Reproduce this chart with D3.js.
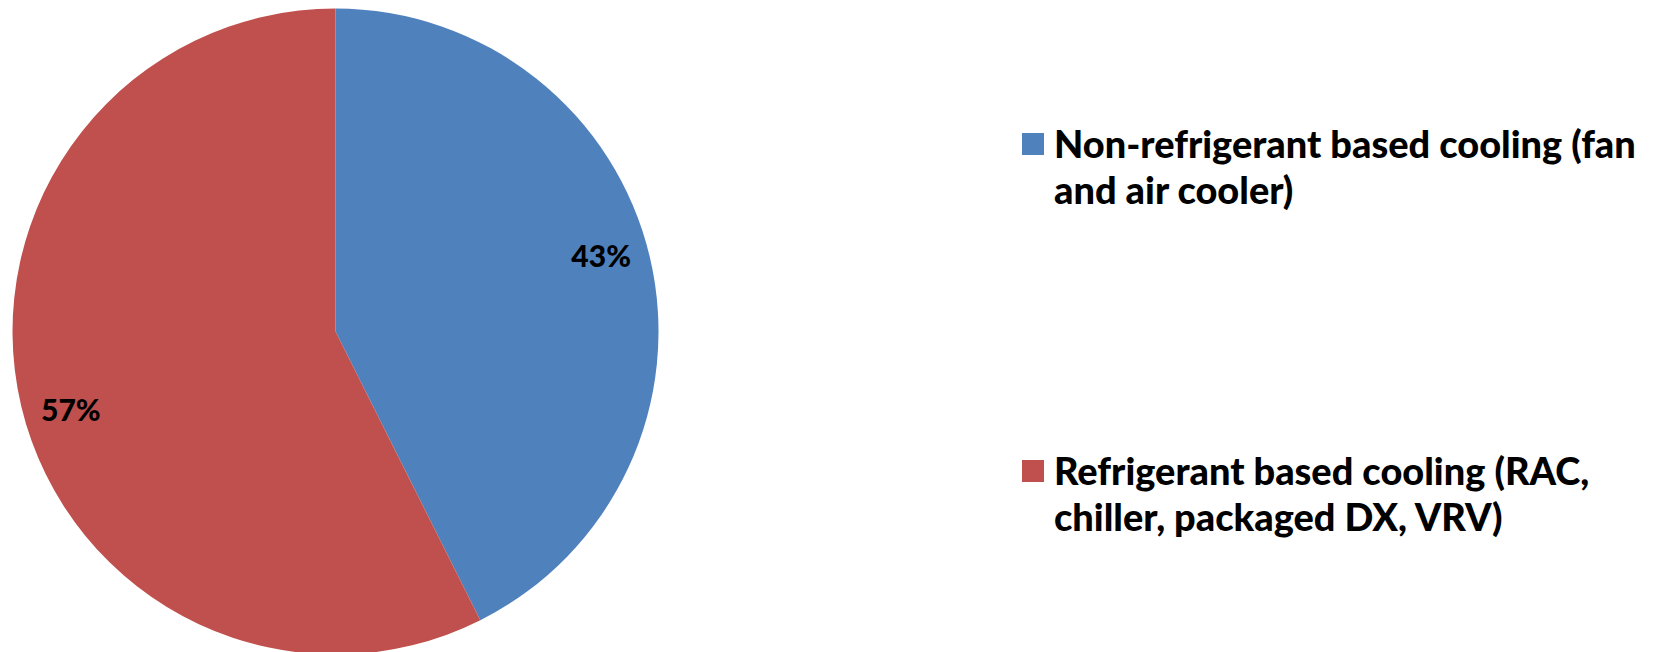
<!DOCTYPE html>
<html>
<head>
<meta charset="utf-8">
<script src="https://cdn.jsdelivr.net/npm/d3@7"></script>
<style>
  html, body { margin: 0; padding: 0; background: #ffffff; }
  svg { display: block; }
  text { font-family: Lato, "Open Sans", "Liberation Sans", sans-serif; font-weight: 900; fill: #000; }
</style>
</head>
<body>
<svg id="chart" width="1658" height="652"></svg>
<script>
const categories = [
  "Non-refrigerant based cooling (fan and air cooler)",
  "Refrigerant based cooling (RAC, chiller, packaged DX, VRV)"
];
const legendLines = [
  ["Non-refrigerant based cooling (fan", "and air cooler)"],
  ["Refrigerant based cooling (RAC,", "chiller, packaged DX, VRV)"]
];
const values = [42.6, 57.4];
const colors = ["#4F81BD", "#C0504D"];

const svg = d3.select("#chart");
const cx = 335.5, cy = 331.5, R = 323;

const pie = d3.pie().sort(null).value(d => d.value);
const data = categories.map((c, i) => ({ name: c, value: values[i], color: colors[i] }));
const arcs = pie(data);
const arc = d3.arc().innerRadius(0).outerRadius(R);
const total = d3.sum(values);

const g = svg.append("g").attr("transform", `translate(${cx},${cy})`);
g.selectAll("path.slice")
  .data(arcs)
  .enter().append("path")
  .attr("class", "slice")
  .attr("d", arc)
  .attr("fill", d => d.data.color);

// data labels
const labelArc = d3.arc().innerRadius(272).outerRadius(272);
const labelOffsets = [[1, -14], [0, 15]];
g.selectAll("text.lbl")
  .data(arcs)
  .enter().append("text")
  .attr("class", "lbl")
  .attr("text-anchor", "middle")
  .attr("dominant-baseline", "central")
  .style("font-size", "30px")
  .attr("transform", (d, i) => {
    const c = labelArc.centroid(d);
    return `translate(${c[0] + labelOffsets[i][0]},${c[1] + labelOffsets[i][1]})`;
  })
  .text(d => Math.round(d.data.value / total * 100) + "%");

// legend
const legendY = [133, 460];
const lg = svg.append("g");
const items = lg.selectAll("g.item")
  .data(data)
  .enter().append("g")
  .attr("class", "item")
  .attr("transform", (d, i) => `translate(1022,${legendY[i]})`);
items.append("rect")
  .attr("width", 22).attr("height", 22)
  .attr("fill", d => d.color);
const txt = items.append("text")
  .attr("x", 32)
  .style("font-size", "34px");
txt.each(function(d, i) {
  const t = d3.select(this);
  legendLines[i].forEach((line, j) => {
    t.append("tspan").attr("x", 32).attr("y", 25 + j * 46).text(line);
  });
});
// fit font-size so first line width ~ 582px
const firstSpan = txt.filter((d, i) => i === 0).select("tspan").node();
const w = firstSpan.getComputedTextLength();
const fs = 34 * 582 / w;
txt.style("font-size", fs + "px");
</script>
</body>
</html>
